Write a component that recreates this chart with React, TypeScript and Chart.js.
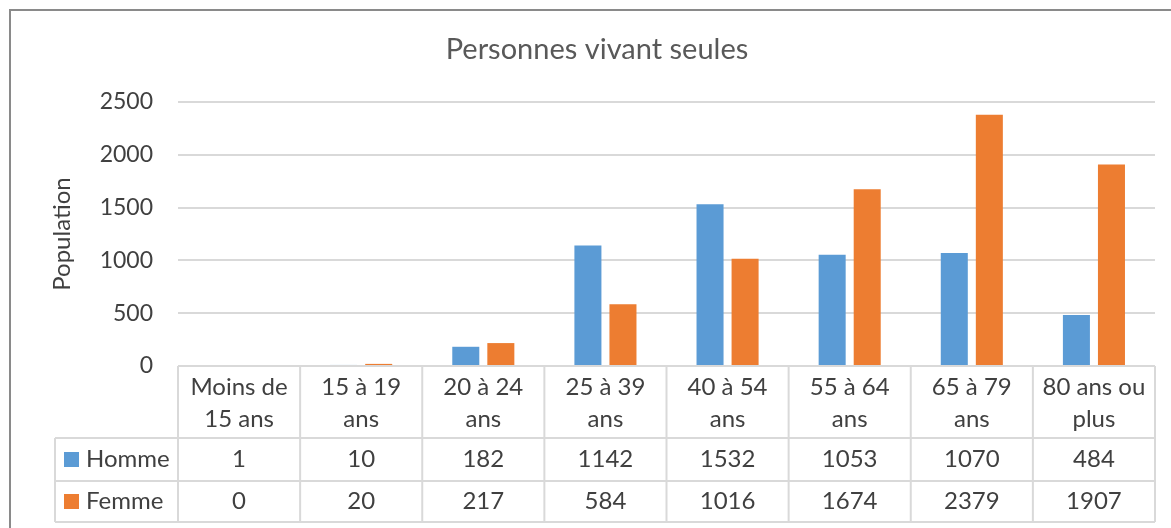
import React, { useEffect, useRef } from "react";
import { Chart, registerables } from "chart.js";

Chart.register(...registerables);

const TITLE = "Personnes vivant seules";
const Y_TITLE = "Population";
const categories: string[][] = [
  ["Moins de", "15 ans"],
  ["15 à 19", "ans"],
  ["20 à 24", "ans"],
  ["25 à 39", "ans"],
  ["40 à 54", "ans"],
  ["55 à 64", "ans"],
  ["65 à 79", "ans"],
  ["80 ans ou", "plus"],
];
const seriesNames = ["Homme", "Femme"];
const homme = [1, 10, 182, 1142, 1532, 1053, 1070, 484];
const femme = [0, 20, 217, 584, 1016, 1674, 2379, 1907];
const colors = ["#5B9BD5", "#ED7D31"];
const yMax = 2500;
const yStep = 500;

const FONT = "Lato, 'Open Sans', sans-serif";
const TEXT = "#404040";
const GRID = "#D9D9D9";

const tablePlugin = {
  id: "excelTable",
  afterDraw(chart: any) {
    const ctx = chart.ctx as CanvasRenderingContext2D;
    const area = chart.chartArea;
    const xs = chart.scales.x;
    const n = categories.length;
    const cw = (area.right - area.left) / n;
    const top = area.bottom;
    const headerBottom = top + 72;
    const row1Bottom = headerBottom + 43;
    const row2Bottom = row1Bottom + 41;
    const legendLeft = 55;

    ctx.save();
    // frame
    ctx.strokeStyle = "#8a8a8a";
    ctx.lineWidth = 2;
    ctx.beginPath();
    ctx.moveTo(10, chart.height);
    ctx.lineTo(10, 10);
    ctx.lineTo(chart.width, 10);
    ctx.stroke();

    // title
    ctx.fillStyle = "#595959";
    ctx.font = `29px ${FONT}`;
    ctx.textAlign = "center";
    ctx.textBaseline = "middle";
    ctx.fillText(TITLE, 597, 50);

    // y axis title
    ctx.save();
    ctx.translate(62, 234);
    ctx.rotate(-Math.PI / 2);
    ctx.font = `24px ${FONT}`;
    ctx.fillStyle = TEXT;
    ctx.fillText(Y_TITLE, 0, 0);
    ctx.restore();

    // table lines
    ctx.strokeStyle = GRID;
    ctx.lineWidth = 2;
    ctx.beginPath();
    ctx.moveTo(area.left, top);
    ctx.lineTo(area.right, top);
    for (const y of [headerBottom, row1Bottom, row2Bottom]) {
      ctx.moveTo(legendLeft, y);
      ctx.lineTo(area.right, y);
    }
    for (let i = 0; i <= n; i++) {
      const x = area.left + i * cw;
      ctx.moveTo(x, top);
      ctx.lineTo(x, row2Bottom);
    }
    ctx.moveTo(legendLeft, headerBottom);
    ctx.lineTo(legendLeft, row2Bottom);
    ctx.stroke();

    // header text
    ctx.fillStyle = TEXT;
    ctx.font = `24px ${FONT}`;
    ctx.textAlign = "center";
    ctx.textBaseline = "middle";
    categories.forEach((lines, i) => {
      const cx = xs.getPixelForValue(i);
      lines.forEach((l, j) => ctx.fillText(l, cx, top + 21 + j * 32));
    });

    // rows
    const rows = [homme, femme];
    const rowCenters = [(headerBottom + row1Bottom) / 2, (row1Bottom + row2Bottom) / 2];
    rows.forEach((vals, r) => {
      const cy = rowCenters[r];
      ctx.fillStyle = colors[r];
      ctx.fillRect(64, cy - 7.5, 15, 15);
      ctx.fillStyle = TEXT;
      ctx.textAlign = "left";
      ctx.fillText(seriesNames[r], 86, cy);
      ctx.textAlign = "center";
      vals.forEach((v, i) => ctx.fillText(String(v), xs.getPixelForValue(i), cy));
    });
    ctx.restore();
  },
};

export default function App() {
  const ref = useRef<HTMLCanvasElement>(null);
  useEffect(() => {
    document.body.style.margin = "0";
    const chart = new Chart(ref.current!, {
      type: "bar",
      data: {
        labels: categories.map((c) => c.join(" ")),
        datasets: [
          { label: seriesNames[0], data: homme, backgroundColor: colors[0] },
          { label: seriesNames[1], data: femme, backgroundColor: colors[1] },
        ],
      },
      options: {
        responsive: false,
        animation: false,
        devicePixelRatio: 1,
        layout: { padding: { top: 102, right: 16, left: 0, bottom: 0 } },
        datasets: {
          bar: { categoryPercentage: 0.574, barPercentage: 0.771 },
        } as any,
        plugins: {
          legend: { display: false },
          title: { display: false },
          tooltip: { enabled: false },
        },
        scales: {
          x: {
            ticks: { display: false },
            grid: { display: false },
            border: { display: false },
            afterFit(scale: any) {
              scale.height = 162;
            },
          },
          y: {
            min: 0,
            max: yMax,
            ticks: {
              stepSize: yStep,
              padding: 25,
              color: TEXT,
              font: { family: FONT, size: 23 },
              callback: (v: any) => String(v),
            },
            grid: { color: GRID, lineWidth: 2, drawTicks: false },
            border: { display: false },
            afterFit(scale: any) {
              scale.width = 178;
            },
          },
        },
      },
      plugins: [tablePlugin],
    });
    return () => chart.destroy();
  }, []);
  return (
    <div style={{ position: "absolute", left: 0, top: 0, width: 1171, height: 528, background: "#fff" }}>
      <canvas ref={ref} width={1171} height={528} />
    </div>
  );
}
